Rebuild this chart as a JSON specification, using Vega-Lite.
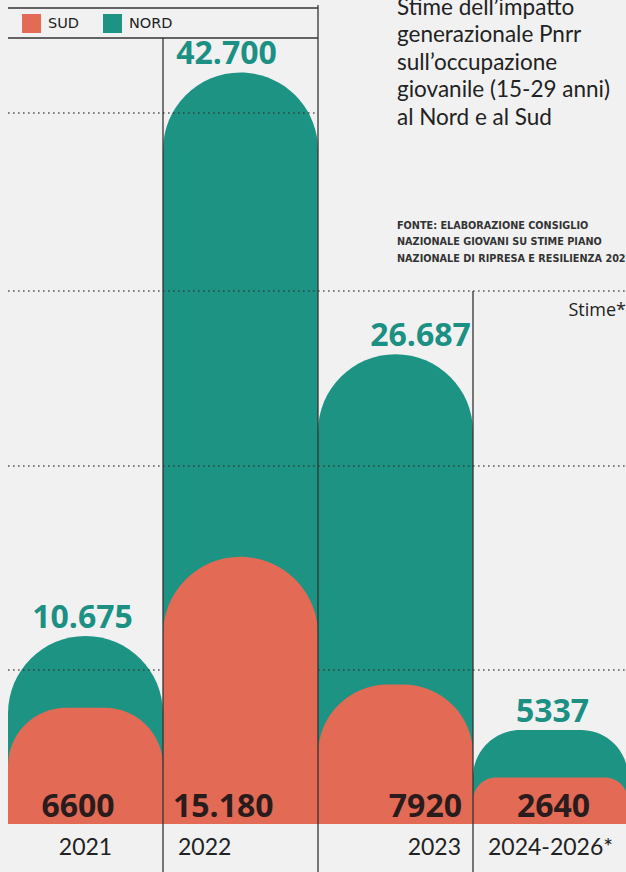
{
  "$schema": "https://vega.github.io/schema/vega-lite/v6.json",
  "width": 620,
  "height": 872,
  "autosize": {"type": "none"},
  "padding": {"left": 8, "top": 0, "right": 0, "bottom": 0},
  "background": "#f1f1f1",
  "config": {"view": {"stroke": null}},
  "datasets": {
    "bars": [
      {"anno": "2021", "area": "NORD", "valore": 10675},
      {"anno": "2022", "area": "NORD", "valore": 42700},
      {"anno": "2023", "area": "NORD", "valore": 26687},
      {"anno": "2024-2026*", "area": "NORD", "valore": 5337},
      {"anno": "2021", "area": "SUD", "valore": 6600},
      {"anno": "2022", "area": "SUD", "valore": 15180},
      {"anno": "2023", "area": "SUD", "valore": 7920},
      {"anno": "2024-2026*", "area": "SUD", "valore": 2640}
    ],
    "griglia": [
      {"livello": 40400, "da": "2021", "a": "2022"},
      {"livello": 30280, "da": "2021", "a": "2024-2026*"},
      {"livello": 20340, "da": "2021", "a": "2024-2026*"},
      {"livello": 8750, "da": "2021", "a": "2021"},
      {"livello": 8750, "da": "2023", "a": "2024-2026*"}
    ],
    "cornice": [
      {"livello": 46364, "da": "2021", "a": "2022"},
      {"livello": 44659, "da": "2021", "a": "2022"}
    ],
    "separatori": [
      {"anno": "2022", "cima": 44659},
      {"anno": "2023", "cima": 46534},
      {"anno": "2024-2026*", "cima": 30280}
    ]
  },
  "layer": [
    {
      "data": {"name": "bars"},
      "mark": {"type": "bar", "cornerRadiusTopLeft": 77.5, "cornerRadiusTopRight": 77.5},
      "encoding": {
        "x": {"field": "anno", "type": "nominal", "sort": null, "axis": null,
              "scale": {"domain": ["2021", "2022", "2023", "2024-2026*"], "paddingInner": 0, "paddingOuter": 0}},
        "y": {"field": "valore", "type": "quantitative", "stack": null, "axis": null,
              "scale": {"domain": [-2727, 46818], "nice": false, "zero": false}},
        "y2": {"datum": 0},
        "color": {"field": "area", "type": "nominal",
                  "scale": {"domain": ["SUD", "NORD"], "range": ["#e36a55", "#1d9384"]},
                  "legend": {"orient": "none", "legendX": 14, "legendY": 14, "direction": "horizontal",
                             "title": null, "symbolType": "square", "symbolSize": 361, "symbolStrokeWidth": 0,
                             "symbolOpacity": 1, "labelFont": "DejaVu Sans", "labelFontSize": 14.5,
                             "labelColor": "#222222", "labelOffset": 7, "columnPadding": 24, "padding": 0}}
      }
    },
    {
      "data": {"name": "griglia"},
      "mark": {"type": "rule", "stroke": "#333333", "strokeWidth": 1.6, "strokeDash": [1.6, 3.4], "opacity": 0.8},
      "encoding": {
        "x": {"field": "da", "type": "nominal", "bandPosition": 0},
        "x2": {"field": "a", "bandPosition": 1},
        "y": {"field": "livello", "type": "quantitative"}
      }
    },
    {
      "data": {"name": "cornice"},
      "mark": {"type": "rule", "stroke": "#333333", "strokeWidth": 1.3},
      "encoding": {
        "x": {"field": "da", "type": "nominal", "bandPosition": 0},
        "x2": {"field": "a", "bandPosition": 1},
        "y": {"field": "livello", "type": "quantitative"}
      }
    },
    {
      "data": {"name": "separatori"},
      "mark": {"type": "rule", "stroke": "#333333", "strokeWidth": 1.3},
      "encoding": {
        "x": {"field": "anno", "type": "nominal", "bandPosition": 0},
        "y": {"field": "cima", "type": "quantitative"},
        "y2": {"datum": -2727}
      }
    },
    {
      "data": {"name": "bars"},
      "transform": [{"filter": "datum.area == 'NORD'"}],
      "mark": {"type": "text", "font": "Open Sans", "fontSize": 32, "fontWeight": "bold", "color": "#1b9083",
               "baseline": "alphabetic", "align": "center", "dy": -8,
               "dx": {"expr": "datum.anno == '2022' ? -14 : datum.anno == '2023' ? 25 : datum.anno == '2021' ? -3 : 2"},
               "text": {"expr": "datum.valore >= 10000 ? replace(format(datum.valore, ','), ',', '.') : format(datum.valore, 'd')"}},
      "encoding": {
        "x": {"field": "anno", "type": "nominal"},
        "y": {"field": "valore", "type": "quantitative"}
      }
    },
    {
      "data": {"name": "bars"},
      "transform": [{"filter": "datum.area == 'SUD'"}],
      "mark": {"type": "text", "font": "Open Sans", "fontSize": 32, "fontWeight": "bold", "color": "#2a1c1c",
               "baseline": "alphabetic", "dy": -7,
               "align": {"expr": "datum.anno == '2022' ? 'left' : datum.anno == '2023' ? 'right' : 'center'"},
               "dx": {"expr": "datum.anno == '2022' ? -67.5 : datum.anno == '2023' ? 66.5 : datum.anno == '2021' ? -7.5 : 3"},
               "text": {"expr": "datum.valore >= 10000 ? replace(format(datum.valore, ','), ',', '.') : format(datum.valore, 'd')"}},
      "encoding": {
        "x": {"field": "anno", "type": "nominal"},
        "y": {"datum": 0}
      }
    },
    {
      "data": {"name": "bars"},
      "transform": [{"filter": "datum.area == 'SUD'"}],
      "mark": {"type": "text", "font": "Lato", "fontSize": 23, "fontWeight": "normal", "color": "#222222",
               "baseline": "middle",
               "align": {"expr": "datum.anno == '2022' ? 'left' : datum.anno == '2023' ? 'right' : 'center'"},
               "dx": {"expr": "datum.anno == '2022' ? -62.5 : datum.anno == '2023' ? 65.5 : 0"}},
      "encoding": {
        "x": {"field": "anno", "type": "nominal"},
        "y": {"datum": -1364},
        "text": {"field": "anno", "type": "nominal"}
      }
    },
    {
      "data": {"values": [{}]},
      "mark": {"type": "text", "font": "Lato", "fontSize": 22.5, "fontWeight": "normal", "color": "#222222",
               "align": "left", "baseline": "alphabetic", "lineHeight": 27.5, "dx": 1.5,
               "text": ["Stime dell’impatto", "generazionale Pnrr", "sull’occupazione", "giovanile (15-29 anni)", "al Nord e al Sud"]},
      "encoding": {
        "x": {"datum": "2023"},
        "y": {"datum": 45966}
      }
    },
    {
      "data": {"values": [{}]},
      "mark": {"type": "text", "font": "DejaVu Sans", "fontSize": 9.7, "fontWeight": "bold", "color": "#333333",
               "align": "left", "baseline": "alphabetic", "lineHeight": 16.7, "dx": 1.5,
               "text": ["FONTE: ELABORAZIONE CONSIGLIO", "NAZIONALE GIOVANI SU STIME PIANO", "NAZIONALE DI RIPRESA E RESILIENZA 2021"]},
      "encoding": {
        "x": {"datum": "2023"},
        "y": {"datum": 33835}
      }
    },
    {
      "data": {"values": [{}]},
      "mark": {"type": "text", "font": "Open Sans", "fontSize": 18, "fontWeight": "normal", "color": "#222222",
               "align": "right", "baseline": "alphabetic", "dx": 75.5, "text": "Stime*"},
      "encoding": {
        "x": {"datum": "2024-2026*"},
        "y": {"datum": 28864}
      }
    }
  ]
}
